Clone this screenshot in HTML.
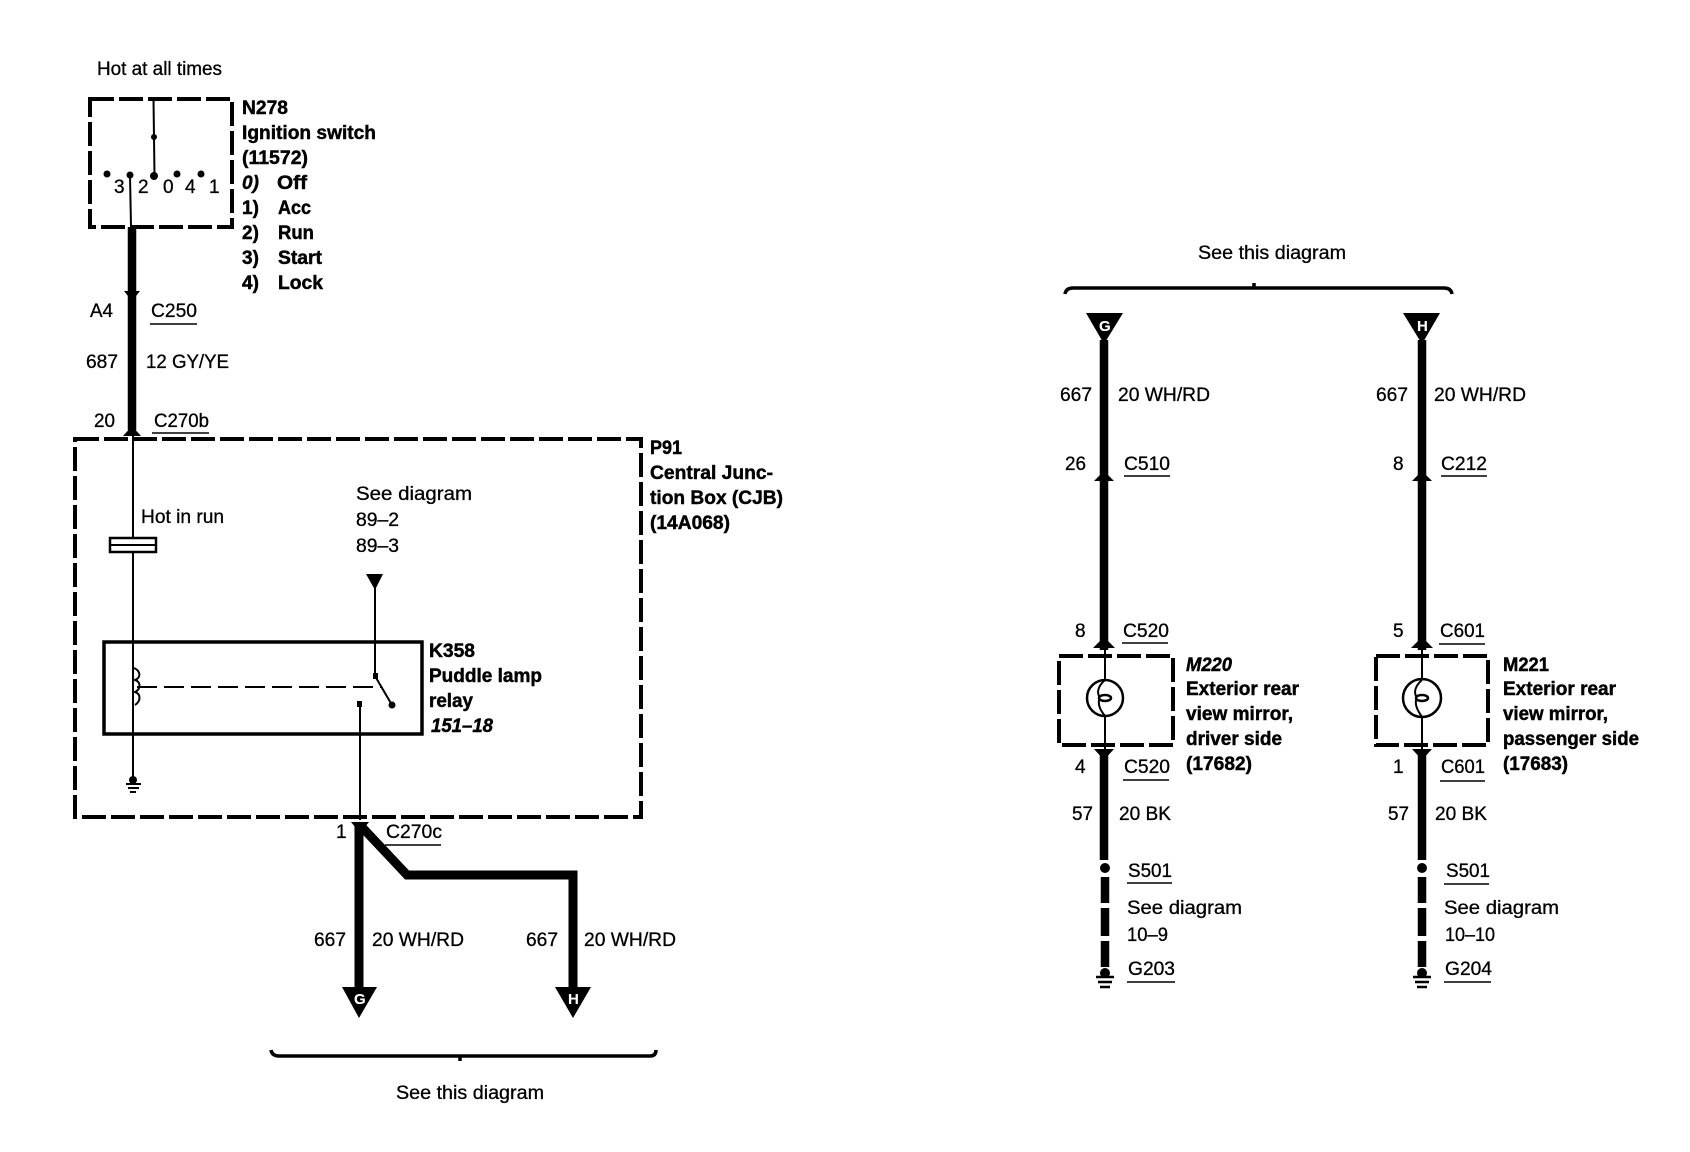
<!DOCTYPE html>
<html><head><meta charset="utf-8"><style>
html,body{margin:0;padding:0;background:#fff}
svg{display:block}
text{font-family:"Liberation Sans",Arial,sans-serif;font-size:19px;fill:#000;stroke:#000;stroke-width:.3}
.b{font-weight:bold;stroke-width:.45}
.i{font-style:italic}
.w{fill:#fff;stroke:#fff;font-weight:bold;font-size:15px;stroke-width:.1}
.d{fill:none;stroke:#000;stroke-width:4;stroke-dasharray:24 5}
.t{fill:none;stroke:#000;stroke-width:2}
.k{fill:none;stroke:#000;stroke-width:8.5}
.u{stroke:#000;stroke-width:1.5}
</style></head><body>
<svg width="1690" height="1152" viewBox="0 0 1690 1152" xmlns="http://www.w3.org/2000/svg">
<rect width="1690" height="1152" fill="#fff"/>

<!-- Ignition switch -->
<text x="97" y="75" textLength="125" lengthAdjust="spacingAndGlyphs">Hot at all times</text>
<rect class="d" x="90" y="99" width="142" height="128"/>
<path class="t" d="M153.500 99L154.500 176M130 175L131 227"/>
<circle cx="154" cy="137" r="3"/>
<circle cx="107" cy="174" r="3.500"/><circle cx="130" cy="175" r="3.500"/><circle cx="154" cy="176" r="4"/><circle cx="177" cy="174" r="3.500"/><circle cx="201" cy="174" r="3.500"/>
<text x="114" y="193">3</text><text x="138" y="193">2</text><text x="163" y="193">0</text><text x="185" y="193">4</text><text x="209" y="193">1</text>
<text class="b" x="242" y="114" textLength="46" lengthAdjust="spacingAndGlyphs">N278</text>
<text class="b" x="242" y="139" textLength="134" lengthAdjust="spacingAndGlyphs">Ignition switch</text>
<text class="b" x="242" y="164" textLength="66" lengthAdjust="spacingAndGlyphs">(11572)</text>
<text class="b i" x="242" y="189">0)</text><text class="b" x="277" y="189" textLength="30" lengthAdjust="spacingAndGlyphs">Off</text>
<text class="b" x="242" y="214">1)</text><text class="b" x="278" y="214" textLength="33" lengthAdjust="spacingAndGlyphs">Acc</text>
<text class="b" x="242" y="239">2)</text><text class="b" x="278" y="239" textLength="36" lengthAdjust="spacingAndGlyphs">Run</text>
<text class="b" x="242" y="264">3)</text><text class="b" x="278" y="264" textLength="44" lengthAdjust="spacingAndGlyphs">Start</text>
<text class="b" x="242" y="289">4)</text><text class="b" x="278" y="289" textLength="45" lengthAdjust="spacingAndGlyphs">Lock</text>
<path class="k" d="M132 227V430"/>
<path d="M124 291H140L132 301Z"/>
<path d="M132 426L141 436H123Z"/>
<text x="90" y="317" textLength="23" lengthAdjust="spacingAndGlyphs">A4</text>
<text x="151" y="317" textLength="46" lengthAdjust="spacingAndGlyphs">C250</text><path class="u" d="M150 324H197"/>
<text x="86" y="368" textLength="32" lengthAdjust="spacingAndGlyphs">687</text>
<text x="146" y="368" textLength="83" lengthAdjust="spacingAndGlyphs">12 GY/YE</text>
<text x="94" y="427" textLength="21" lengthAdjust="spacingAndGlyphs">20</text>
<text x="154" y="427" textLength="55" lengthAdjust="spacingAndGlyphs">C270b</text><path class="u" d="M152 433H209"/>

<!-- CJB -->
<rect class="d" x="75" y="439" width="566" height="378"/>
<path class="t" d="M133 436V777"/>
<rect x="110" y="538" width="46" height="14" fill="#fff" stroke="#000" stroke-width="2.500"/>
<path class="t" d="M110 545H156"/>
<text x="141" y="523" textLength="83" lengthAdjust="spacingAndGlyphs">Hot in run</text>
<text x="356" y="500" textLength="116" lengthAdjust="spacingAndGlyphs">See diagram</text>
<text x="356" y="526" textLength="43" lengthAdjust="spacingAndGlyphs">89–2</text>
<text x="356" y="552" textLength="43" lengthAdjust="spacingAndGlyphs">89–3</text>
<path d="M366 574H383L375 590Z"/>
<path class="t" d="M375 588V676L392 705"/>
<rect x="373" y="673" width="5" height="6"/>
<circle cx="392" cy="705" r="3.500"/>
<rect x="104" y="642" width="318" height="92" fill="none" stroke="#000" stroke-width="3.500"/>
<path class="t" d="M134 668c7 3 7 10 1 12c6 2 6 9 0 12c6 2 6 9 0 13"/>
<path d="M137 687H382" fill="none" stroke="#000" stroke-width="2" stroke-dasharray="20 7"/>
<rect x="357" y="701" width="5" height="6"/>
<path class="t" d="M360 704V820"/>
<circle cx="133" cy="780" r="4"/>
<path d="M126 784H141M128 788H139M130 792H136" stroke="#000" stroke-width="2"/>
<text class="b" x="650" y="454" textLength="32" lengthAdjust="spacingAndGlyphs">P91</text>
<text class="b" x="650" y="479" textLength="123" lengthAdjust="spacingAndGlyphs">Central Junc-</text>
<text class="b" x="650" y="504" textLength="133" lengthAdjust="spacingAndGlyphs">tion Box (CJB)</text>
<text class="b" x="650" y="529" textLength="80" lengthAdjust="spacingAndGlyphs">(14A068)</text>
<text class="b" x="429" y="657" textLength="46" lengthAdjust="spacingAndGlyphs">K358</text>
<text class="b" x="429" y="682" textLength="113" lengthAdjust="spacingAndGlyphs">Puddle lamp</text>
<text class="b" x="429" y="707" textLength="44" lengthAdjust="spacingAndGlyphs">relay</text>
<text class="b i" x="431" y="732" textLength="62" lengthAdjust="spacingAndGlyphs">151–18</text>

<!-- branch -->
<path d="M359 823V990" fill="none" stroke="#000" stroke-width="9"/>
<path d="M360 825L407 875H573V990" fill="none" stroke="#000" stroke-width="9"/>
<path d="M351 822H369L360 833Z"/>
<path d="M342 987H377L359 1018Z"/><path d="M555 987H591L573 1018Z"/>
<text class="w" x="354" y="1004">G</text><text class="w" x="568" y="1004">H</text>
<text x="336" y="838">1</text>
<text x="386" y="838" textLength="56" lengthAdjust="spacingAndGlyphs">C270c</text><path class="u" d="M385 845H441"/>
<text x="314" y="946" textLength="32" lengthAdjust="spacingAndGlyphs">667</text>
<text x="372" y="946" textLength="92" lengthAdjust="spacingAndGlyphs">20 WH/RD</text>
<text x="526" y="946" textLength="32" lengthAdjust="spacingAndGlyphs">667</text>
<text x="584" y="946" textLength="92" lengthAdjust="spacingAndGlyphs">20 WH/RD</text>
<path d="M271 1050q1 6 8 6H650q6 0 6-6M460 1056v5" fill="none" stroke="#000" stroke-width="3.500"/>
<text x="396" y="1099" textLength="148" lengthAdjust="spacingAndGlyphs">See this diagram</text>

<!-- right top -->
<text x="1198" y="259" textLength="148" lengthAdjust="spacingAndGlyphs">See this diagram</text>
<path d="M1065 294q1-6 8-6H1444q7 0 8 6M1254 288v-5" fill="none" stroke="#000" stroke-width="3.500"/>
<path d="M1086 313H1123L1104 344Z"/><path d="M1403 313H1440L1422 344Z"/>
<text class="w" x="1099" y="331">G</text><text class="w" x="1417" y="331">H</text>

<path class="k" d="M1104 340V650"/>
<path class="k" d="M1422 340V650"/>
<path d="M1104 471L1114 481H1094Z"/><path d="M1422 471L1432 481H1412Z"/>
<path d="M1104 637L1115 648H1093Z"/><path d="M1422 637L1433 648H1411Z"/>
<text x="1060" y="401" textLength="32" lengthAdjust="spacingAndGlyphs">667</text>
<text x="1118" y="401" textLength="92" lengthAdjust="spacingAndGlyphs">20 WH/RD</text>
<text x="1376" y="401" textLength="32" lengthAdjust="spacingAndGlyphs">667</text>
<text x="1434" y="401" textLength="92" lengthAdjust="spacingAndGlyphs">20 WH/RD</text>
<text x="1065" y="470" textLength="21" lengthAdjust="spacingAndGlyphs">26</text>
<text x="1124" y="470" textLength="46" lengthAdjust="spacingAndGlyphs">C510</text><path class="u" d="M1124 476H1170"/>
<text x="1393" y="470">8</text>
<text x="1441" y="470" textLength="46" lengthAdjust="spacingAndGlyphs">C212</text><path class="u" d="M1441 476H1487"/>
<text x="1075" y="637">8</text>
<text x="1123" y="637" textLength="46" lengthAdjust="spacingAndGlyphs">C520</text><path class="u" d="M1122 643H1168"/>
<text x="1393" y="637">5</text>
<text x="1440" y="637" textLength="45" lengthAdjust="spacingAndGlyphs">C601</text><path class="u" d="M1439 644H1485"/>

<!-- M220 -->
<rect class="d" x="1059" y="656" width="114" height="89"/>
<path class="t" d="M1105 650V680M1105 716V752"/>
<circle cx="1105" cy="698" r="18" fill="none" stroke="#000" stroke-width="2.500"/>
<path class="t" d="M1105 680c-7 6-8 12-6 16M1099 700c-1 6 2 11 6 16"/>
<ellipse cx="1105" cy="698" rx="6" ry="3" fill="none" stroke="#000" stroke-width="2.500"/>
<path d="M1094 749H1114L1104 760Z"/>
<path class="k" d="M1104 752V860"/>
<circle cx="1105" cy="868" r="5"/>
<path class="k" d="M1105 877V903M1105 908V936M1105 941V967"/>
<circle cx="1105" cy="973" r="5"/>
<path d="M1096 977H1114M1098 982H1112M1100 987H1110" stroke="#000" stroke-width="2.500"/>
<text class="b i" x="1186" y="671" textLength="46" lengthAdjust="spacingAndGlyphs">M220</text>
<text class="b" x="1186" y="695" textLength="113" lengthAdjust="spacingAndGlyphs">Exterior rear</text>
<text class="b" x="1186" y="720" textLength="107" lengthAdjust="spacingAndGlyphs">view mirror,</text>
<text class="b" x="1186" y="745" textLength="96" lengthAdjust="spacingAndGlyphs">driver side</text>
<text class="b" x="1186" y="770" textLength="66" lengthAdjust="spacingAndGlyphs">(17682)</text>
<text x="1075" y="773">4</text>
<text x="1124" y="773" textLength="46" lengthAdjust="spacingAndGlyphs">C520</text><path class="u" d="M1123 780H1169"/>
<text x="1072" y="820" textLength="21" lengthAdjust="spacingAndGlyphs">57</text>
<text x="1119" y="820" textLength="52" lengthAdjust="spacingAndGlyphs">20 BK</text>
<text x="1128" y="877" textLength="44" lengthAdjust="spacingAndGlyphs">S501</text><path class="u" d="M1127 883H1172"/>
<text x="1127" y="914" textLength="115" lengthAdjust="spacingAndGlyphs">See diagram</text>
<text x="1127" y="941" textLength="41" lengthAdjust="spacingAndGlyphs">10–9</text>
<text x="1128" y="975" textLength="47" lengthAdjust="spacingAndGlyphs">G203</text><path class="u" d="M1127 982H1175"/>

<!-- M221 -->
<rect class="d" x="1376" y="656" width="112" height="89"/>
<path class="t" d="M1422 650V680M1422 717V752"/>
<circle cx="1422" cy="698" r="19" fill="none" stroke="#000" stroke-width="2.500"/>
<path class="t" d="M1422 680c-7 6-8 12-6 16M1416 700c-1 6 2 11 6 17"/>
<ellipse cx="1422" cy="698" rx="6" ry="3" fill="none" stroke="#000" stroke-width="2.500"/>
<path d="M1412 749H1432L1422 760Z"/>
<path class="k" d="M1422 752V860"/>
<circle cx="1422" cy="868" r="5"/>
<path class="k" d="M1422 877V903M1422 908V936M1422 941V967"/>
<circle cx="1422" cy="973" r="5"/>
<path d="M1413 977H1431M1415 982H1429M1417 987H1427" stroke="#000" stroke-width="2.500"/>
<text class="b" x="1503" y="671" textLength="46" lengthAdjust="spacingAndGlyphs">M221</text>
<text class="b" x="1503" y="695" textLength="113" lengthAdjust="spacingAndGlyphs">Exterior rear</text>
<text class="b" x="1503" y="720" textLength="105" lengthAdjust="spacingAndGlyphs">view mirror,</text>
<text class="b" x="1503" y="745" textLength="136" lengthAdjust="spacingAndGlyphs">passenger side</text>
<text class="b" x="1503" y="770" textLength="65" lengthAdjust="spacingAndGlyphs">(17683)</text>
<text x="1393" y="773">1</text>
<text x="1441" y="773" textLength="44" lengthAdjust="spacingAndGlyphs">C601</text><path class="u" d="M1440 781H1485"/>
<text x="1388" y="820" textLength="21" lengthAdjust="spacingAndGlyphs">57</text>
<text x="1435" y="820" textLength="52" lengthAdjust="spacingAndGlyphs">20 BK</text>
<text x="1446" y="877" textLength="44" lengthAdjust="spacingAndGlyphs">S501</text><path class="u" d="M1444 884H1489"/>
<text x="1444" y="914" textLength="115" lengthAdjust="spacingAndGlyphs">See diagram</text>
<text x="1445" y="941" textLength="50" lengthAdjust="spacingAndGlyphs">10–10</text>
<text x="1445" y="975" textLength="47" lengthAdjust="spacingAndGlyphs">G204</text><path class="u" d="M1444 982H1491"/>
</svg>
</body></html>
